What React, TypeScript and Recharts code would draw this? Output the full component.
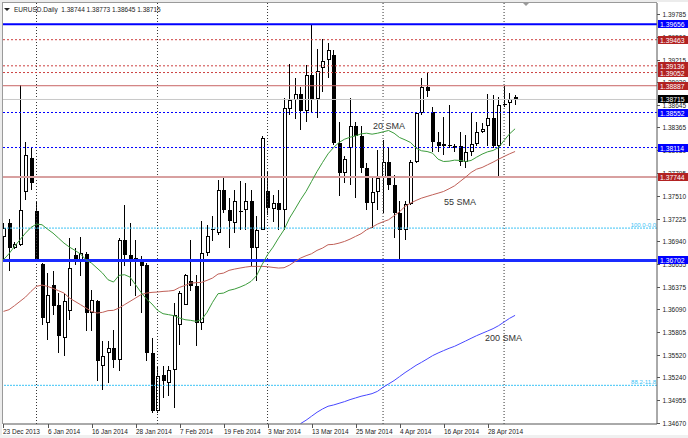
import React from 'react';
import { ComposedChart, Bar, Line, XAxis, YAxis, ReferenceLine, ReferenceDot } from 'recharts';

const FONT = '"Liberation Sans", Arial, Helvetica, sans-serif';

// ---- Daily EURUSD bars (index 0 = 23 Dec 2013) ----
const opens = [1.3700, 1.37168, 1.36856, 1.36898, 1.37552, 1.37981, 1.37323, 1.36660, 1.35918, 1.36398,
  1.36148, 1.35731, 1.36064, 1.36773, 1.36710, 1.36785, 1.36043, 1.36189, 1.35377, 1.35543,
  1.35606, 1.35460, 1.36960, 1.36773, 1.36710, 1.36689, 1.36648, 1.35543, 1.34814, 1.35273,
  1.35168, 1.35335, 1.35898, 1.36148, 1.36439, 1.36377, 1.35919, 1.36793, 1.37100, 1.37043,
  1.37585, 1.37335, 1.37168, 1.37310, 1.37335, 1.37448, 1.36856, 1.37085, 1.37573, 1.37343,
  1.37418, 1.37327, 1.38593, 1.38710, 1.38781, 1.38573, 1.39023, 1.38718, 1.39106, 1.39210,
  1.39273, 1.38168, 1.37793, 1.38106, 1.38377, 1.38252, 1.37856, 1.37418, 1.37552, 1.37731,
  1.37939, 1.37648, 1.37293, 1.37085, 1.37410, 1.37939, 1.38543, 1.38868, 1.38564, 1.38177,
  1.38127, 1.38140, 1.38135, 1.38139, 1.37939, 1.38052, 1.38160, 1.38302, 1.38377, 1.38489,
  1.38127, 1.38648, 1.38668, 1.38744];
const highs = [1.3717, 1.37222, 1.36930, 1.38898, 1.38189, 1.38106, 1.37439, 1.36670, 1.36543, 1.36564,
  1.36293, 1.36293, 1.36981, 1.36856, 1.36989, 1.36802, 1.36335, 1.36210, 1.35689, 1.35689,
  1.35835, 1.36981, 1.37398, 1.37168, 1.36960, 1.36752, 1.36668, 1.35731, 1.35377, 1.35377,
  1.35377, 1.36164, 1.36314, 1.36530, 1.36960, 1.36523, 1.37198, 1.37148, 1.37252, 1.37710,
  1.37731, 1.37477, 1.37585, 1.37689, 1.37668, 1.37585, 1.37252, 1.38252, 1.37814, 1.37522,
  1.37585, 1.38731, 1.39156, 1.38989, 1.38877, 1.39148, 1.39660, 1.39343, 1.39468, 1.39418,
  1.39335, 1.38439, 1.38002, 1.38739, 1.38439, 1.38377, 1.37918, 1.37731, 1.38085, 1.38210,
  1.38106, 1.37773, 1.37439, 1.37439, 1.37960, 1.38564, 1.38981, 1.39064, 1.38627, 1.38314,
  1.38502, 1.38648, 1.38160, 1.38302, 1.38273, 1.38552, 1.38439, 1.38418, 1.38785, 1.38773,
  1.38752, 1.38885, 1.38802, 1.38773];
const lows = [1.3668, 1.36564, 1.36840, 1.36880, 1.37460, 1.37585, 1.36710, 1.35898, 1.35710, 1.36023,
  1.35543, 1.35502, 1.35960, 1.36640, 1.36502, 1.35814, 1.35814, 1.35189, 1.35085, 1.35168,
  1.35356, 1.35314, 1.36627, 1.36377, 1.36252, 1.36044, 1.35439, 1.34793, 1.34793, 1.34981,
  1.35002, 1.34856, 1.35648, 1.36140, 1.36314, 1.35627, 1.35831, 1.36752, 1.36939, 1.37023,
  1.37293, 1.36856, 1.37043, 1.37085, 1.37085, 1.36627, 1.36439, 1.37080, 1.37273, 1.37185,
  1.37085, 1.37085, 1.38523, 1.38468, 1.38335, 1.38439, 1.38543, 1.38481, 1.38814, 1.38980,
  1.38150, 1.37502, 1.37668, 1.37648, 1.37481, 1.37793, 1.37335, 1.37106, 1.37335, 1.37293,
  1.37585, 1.36981, 1.36718, 1.36960, 1.37400, 1.37920, 1.38520, 1.38752, 1.38064, 1.38064,
  1.38023, 1.38106, 1.38064, 1.37877, 1.37856, 1.38002, 1.38127, 1.38290, 1.38127, 1.38106,
  1.37752, 1.38620, 1.38127, 1.38645];
const closes = [1.3711, 1.36860, 1.36906, 1.37335, 1.38023, 1.37668, 1.36718, 1.35981, 1.36273, 1.36135,
  1.35752, 1.36189, 1.36606, 1.36710, 1.36793, 1.36043, 1.36210, 1.35439, 1.35510, 1.35606,
  1.35460, 1.36960, 1.36773, 1.36718, 1.36730, 1.36627, 1.35543, 1.34814, 1.35252, 1.35189,
  1.35335, 1.36023, 1.36293, 1.36523, 1.36377, 1.35919, 1.36793, 1.37002, 1.37080, 1.37585,
  1.37335, 1.37189, 1.37439, 1.37320, 1.37439, 1.36856, 1.37085, 1.38231, 1.37356, 1.37418,
  1.37327, 1.38606, 1.38710, 1.38781, 1.38573, 1.39023, 1.38710, 1.39073, 1.39198, 1.39335,
  1.38168, 1.37793, 1.37968, 1.38377, 1.38252, 1.37856, 1.37418, 1.37552, 1.37731, 1.37939,
  1.37648, 1.37293, 1.37085, 1.37410, 1.37939, 1.38543, 1.38868, 1.38827, 1.38189, 1.38127,
  1.38160, 1.38130, 1.38106, 1.37939, 1.38052, 1.38160, 1.38302, 1.38343, 1.38489, 1.38127,
  1.38648, 1.38660, 1.38718, 1.38715];

// ---- Moving averages ----
const sma20 = [1.36710, 1.36785, 1.36877, 1.36960, 1.37043, 1.37114, 1.37156, 1.37148, 1.37093, 1.37043,
  1.36981, 1.36918, 1.36868, 1.36827, 1.36781, 1.36710, 1.36668, 1.36606, 1.36543, 1.36460,
  1.36431, 1.36514, 1.36523, 1.36493, 1.36398, 1.36302, 1.36218, 1.36156, 1.36077, 1.36035,
  1.36023, 1.36010, 1.35981, 1.35960, 1.35952, 1.35939, 1.35960, 1.36052, 1.36177, 1.36285,
  1.36293, 1.36327, 1.36343, 1.36368, 1.36398, 1.36439, 1.36510, 1.36648, 1.36773, 1.36868,
  1.36981, 1.37085, 1.37231, 1.37343, 1.37460, 1.37564, 1.37689, 1.37814, 1.37927, 1.38035,
  1.38114, 1.38177, 1.38218, 1.38243, 1.38260, 1.38285, 1.38293, 1.38281, 1.38293, 1.38310,
  1.38327, 1.38293, 1.38239, 1.38210, 1.38177, 1.38106, 1.38073, 1.38064, 1.38043, 1.37968,
  1.37939, 1.37943, 1.37956, 1.37952, 1.37939, 1.37952, 1.37993, 1.38031, 1.38060, 1.38077,
  1.38114, 1.38202, 1.38285, 1.38348];
const sma55 = [1.36064, 1.36085, 1.36135, 1.36189, 1.36243, 1.36314, 1.36377, 1.36393, 1.36377, 1.36352,
  1.36323, 1.36293, 1.36231, 1.36189, 1.36148, 1.36106, 1.36064, 1.36043, 1.36052, 1.36073,
  1.36077, 1.36106, 1.36148, 1.36189, 1.36231, 1.36273, 1.36293, 1.36302, 1.36306, 1.36314,
  1.36318, 1.36327, 1.36364, 1.36389, 1.36418, 1.36423, 1.36427, 1.36452, 1.36481, 1.36531,
  1.36543, 1.36577, 1.36593, 1.36606, 1.36618, 1.36627, 1.36627, 1.36627, 1.36623, 1.36614,
  1.36606, 1.36610, 1.36643, 1.36689, 1.36731, 1.36760, 1.36785, 1.36827, 1.36856, 1.36898,
  1.36902, 1.36918, 1.36939, 1.36968, 1.37002, 1.37035, 1.37085, 1.37118, 1.37156, 1.37185,
  1.37210, 1.37260, 1.37310, 1.37377, 1.37418, 1.37452, 1.37481, 1.37502, 1.37523, 1.37543,
  1.37564, 1.37598, 1.37635, 1.37689, 1.37743, 1.37802, 1.37843, 1.37864, 1.37898, 1.37931,
  1.37968, 1.38002, 1.38035, 1.38064];
const SMA200_START = 54;
const sma200 = [1.34660, 1.34702, 1.34752, 1.34802, 1.34843, 1.34877, 1.34893, 1.34914, 1.34935, 1.34960,
  1.34981, 1.35002, 1.35018, 1.35035, 1.35064, 1.35114, 1.35156, 1.35198, 1.35248, 1.35298,
  1.35343, 1.35389, 1.35427, 1.35468, 1.35510, 1.35543, 1.35573, 1.35602, 1.35627, 1.35660,
  1.35693, 1.35727, 1.35760, 1.35789, 1.35818, 1.35848, 1.35885, 1.35931, 1.35977, 1.36014];

// ---- Axes ----
const xTickIndex = [0, 8, 16, 24, 32, 40, 48, 56, 64, 72, 80, 88];
const xTickLabels = ['23 Dec 2013', '6 Jan 2014', '16 Jan 2014', '28 Jan 2014', '7 Feb 2014', '19 Feb 2014',
  '3 Mar 2014', '13 Mar 2014', '25 Mar 2014', '4 Apr 2014', '16 Apr 2014', '28 Apr 2014'];
const monthStartIndex = [6, 28, 48, 69, 91];
const priceTicks = [1.3467, 1.34955, 1.3524, 1.3552, 1.35805, 1.3609, 1.36375, 1.36655, 1.3694, 1.37225,
  1.3751, 1.37795, 1.3808, 1.38365, 1.38645, 1.3893, 1.39215, 1.395, 1.39785];

// ---- Horizontal levels ----
const levels = [1.39656, 1.39463, 1.39136, 1.39052, 1.38887, 1.38552, 1.38114, 1.37744, 1.36702];
const fibLevels = [1.37106, 1.35139];
const fibLabels = ['100.0-0.0', '88.2-11.8'];
const smaNames = ['20 SMA', '55 SMA', '200 SMA'];

// styles (kept apart from the values)
const BLUE = '#0000ff';
const DRED = '#b22222';
const levelStyles = [
  { stroke: BLUE, w: 2, dash: undefined, box: BLUE },
  { stroke: '#cc4040', w: 1, dash: '2 2', box: DRED },
  { stroke: '#cc4040', w: 1, dash: '2 2', box: DRED },
  { stroke: '#cc4040', w: 1, dash: '2 2', box: DRED },
  { stroke: '#c86464', w: 1, dash: undefined, box: DRED },
  { stroke: BLUE, w: 1, dash: '2 2', box: BLUE },
  { stroke: BLUE, w: 1, dash: '2 2', box: BLUE },
  { stroke: '#d8a0a0', w: 2, dash: undefined, box: DRED },
  { stroke: '#1a2cff', w: 3, dash: undefined, box: BLUE },
];

const lastPrice = closes[closes.length - 1];

const table = opens.map((o, i) => ({
  i,
  o,
  h: highs[i],
  l: lows[i],
  c: closes[i],
  s20: sma20[i],
  s55: sma55[i],
  s200: i >= SMA200_START ? sma200[i - SMA200_START] : null,
}));

const Candle = (props: any) => {
  const { x, y, width, height, payload } = props;
  if (!payload || x == null || y == null || height == null) return null;
  const { o, h, l, c } = payload;
  const top = Math.min(y, y + height);
  const bot = Math.max(y, y + height);
  const span = h - l || 1;
  const py = (v: number) => top + ((h - v) / span) * (bot - top);
  const col = Math.floor(x + width / 2);
  const bodyTop = Math.round(py(Math.max(o, c)));
  const bodyBot = Math.round(py(Math.min(o, c)));
  const bh = Math.max(1, bodyBot - bodyTop);
  const up = c >= o;
  return (
    <g>
      <line x1={col + 0.5} x2={col + 0.5} y1={Math.round(top)} y2={Math.round(bot)} stroke="#000" strokeWidth={1} />
      {up && bh > 1 ? (
        <rect x={col - 0.5} y={bodyTop + 0.5} width={3} height={bh - 1} fill="#fff" stroke="#000" strokeWidth={1} />
      ) : (
        <rect x={col - 1} y={bodyTop} width={4} height={bh} fill="#000" />
      )}
    </g>
  );
};

const XTick = (props: any) => {
  const { x, payload } = props;
  const k = xTickIndex.indexOf(payload.value);
  const px = Math.round(x);
  return (
    <g>
      <line x1={px + 0.5} x2={px + 0.5} y1={424} y2={428} stroke="#555" />
      <text x={px} y={433.5} fontSize={6.5} fontFamily={FONT} fill="#222">{xTickLabels[k]}</text>
    </g>
  );
};

const YTick = (props: any) => {
  const { y, payload } = props;
  const v = payload.value;
  const ry = Math.round(y);
  const li = levels.indexOf(v);
  if (li >= 0 || v === lastPrice) {
    const color = li >= 0 ? levelStyles[li].box : '#000';
    return (
      <g>
        <rect x={658} y={ry - 4} width={30} height={8} fill={color} />
        <text x={660} y={ry + 2.5} fontSize={6.8} fontFamily={FONT} fill="#fff">{v.toFixed(5)}</text>
      </g>
    );
  }
  return (
    <g>
      <line x1={657} x2={660} y1={ry + 0.5} y2={ry + 0.5} stroke="#555" />
      <text x={662.5} y={ry + 2.5} fontSize={6.5} fontFamily={FONT} fill="#222">{v.toFixed(5)}</text>
    </g>
  );
};

const annot = (text: string) => (p: any) => {
  const vb = p.viewBox || {};
  const cx = (vb.x ?? 0) + (vb.width ?? 0) / 2;
  const cy = (vb.y ?? 0) + (vb.height ?? 0) / 2;
  return (
    <text x={cx} y={cy + 3} textAnchor="middle" fontSize={9} fontFamily={FONT} fill="#333">{text}</text>
  );
};

const fibLabel = (text: string) => (p: any) => {
  const vb = p.viewBox || {};
  const xr = (vb.x ?? 0) + (vb.width ?? 0);
  return (
    <text x={xr - 1} y={(vb.y ?? 0) - 1} textAnchor="end" fontSize={6} fontFamily={FONT} fill="#3cc3f5">{text}</text>
  );
};

export default function App() {
  const last = table[table.length - 1];
  const header = `EURUSD.Daily  ${last.o.toFixed(5)} ${last.h.toFixed(5)} ${last.l.toFixed(5)} ${last.c.toFixed(5)}`;
  return (
    <div style={{ position: 'absolute', left: 0, top: 0, width: 688, height: 438, background: '#fff', overflow: 'hidden' }}>
      <ComposedChart width={688} height={438} data={table} margin={{ top: 3, right: 0, bottom: 0, left: 3 }}>
        <XAxis
          dataKey="i"
          type="number"
          domain={[-0.09, 118.8]}
          allowDataOverflow
          ticks={xTickIndex}
          interval={0}
          height={14}
          tick={<XTick />}
          tickLine={false}
          axisLine={{ stroke: '#555' }}
        />
        <YAxis
          orientation="right"
          type="number"
          domain={[1.34655, 1.39922]}
          allowDataOverflow
          ticks={[...priceTicks, ...levels, lastPrice]}
          interval={0}
          width={31}
          tick={<YTick />}
          tickLine={false}
          axisLine={{ stroke: '#555' }}
        />
        {monthStartIndex.map((m) => (
          <ReferenceLine key={'v' + m} x={m} stroke="#333" strokeDasharray="1 2" />
        ))}
        {fibLevels.map((f, k) => (
          <ReferenceLine key={'f' + k} y={f} stroke="#3cc3f5" strokeDasharray="2 1" label={{ content: fibLabel(fibLabels[k]) } as any} />
        ))}
        <ReferenceLine y={lastPrice} stroke="#c8c8c8" />
        {levels.map((lv, k) => (
          <ReferenceLine key={'l' + k} y={lv} stroke={levelStyles[k].stroke} strokeWidth={levelStyles[k].w} strokeDasharray={levelStyles[k].dash} />
        ))}
        <Bar dataKey={(d: any) => [d.l, d.h]} shape={Candle} barSize={4} isAnimationActive={false} />
        <Line dataKey="s200" stroke="#4848ff" strokeWidth={1} dot={false} activeDot={false} isAnimationActive={false} />
        <Line dataKey="s55" stroke="#c06058" strokeWidth={1} dot={false} activeDot={false} isAnimationActive={false} />
        <Line dataKey="s20" stroke="#3c9c3c" strokeWidth={1} dot={false} activeDot={false} isAnimationActive={false} />
        <ReferenceDot x={70.1} y={1.38383} r={1} fill="none" stroke="none" label={{ content: annot(smaNames[0]) } as any} />
        <ReferenceDot x={83} y={1.37432} r={1} fill="none" stroke="none" label={{ content: annot(smaNames[1]) } as any} />
        <ReferenceDot x={90.9} y={1.35725} r={1} fill="none" stroke="none" label={{ content: annot(smaNames[2]) } as any} />
      </ComposedChart>
      <svg width={688} height={438} style={{ position: 'absolute', left: 0, top: 0, pointerEvents: 'none' }}>
        <rect x={0} y={0} width={688} height={2} fill="#ececec" />
        <rect x={0} y={0} width={2} height={438} fill="#ececec" />
        <rect x={0} y={435} width={688} height={3} fill="#f0f0f0" />
        <line x1={2} x2={657} y1={2.5} y2={2.5} stroke="#9a9a9a" />
        <line x1={2.5} x2={2.5} y1={2} y2={424} stroke="#9a9a9a" />
        <polygon points="4,8 10,8 7,11" fill="#222" />
        <text x={14} y={12} fontSize={6.5} fontFamily={FONT} fill="#222" style={{ whiteSpace: 'pre' }}>{header}</text>
        <polygon points="523,3 529,3 526,6" fill="#999" />
      </svg>
    </div>
  );
}
